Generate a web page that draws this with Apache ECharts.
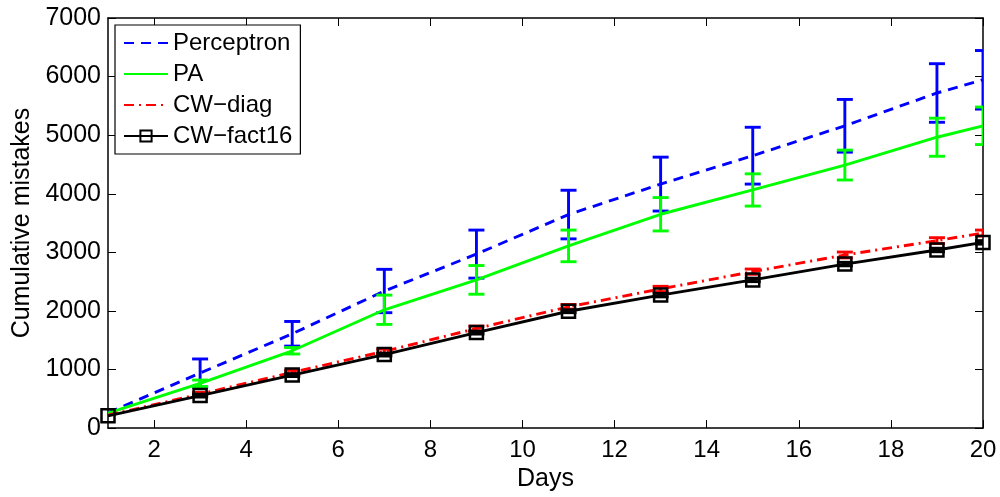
<!DOCTYPE html>
<html><head><meta charset="utf-8">
<script src="https://cdn.jsdelivr.net/npm/echarts@6/dist/echarts.min.js"></script>
<style>html,body{margin:0;padding:0;background:#fff}#c{width:1000px;height:497px}</style>
</head><body><div id="c"></div>
<script>
const days = [1, 3, 5, 7, 9, 11, 13, 15, 17, 19, 20];
const perceptron    = [260, 940, 1610, 2340, 2970, 3645, 4165, 4650, 5160, 5720, 5945];
const perceptronErr = [0, 240, 210, 370, 410, 415, 460, 485, 450, 500, 500];
const pa            = [255, 765, 1320, 2020, 2530, 3110, 3650, 4065, 4490, 4965, 5160];
const paErr         = [0, 55, 55, 250, 245, 270, 285, 275, 255, 325, 320];
const cwDiag        = [220, 580, 950, 1310, 1700, 2070, 2375, 2670, 2955, 3200, 3330];
const cwDiagErr     = [0, 30, 35, 40, 40, 40, 45, 45, 50, 50, 50];
const cwFact16      = [210, 555, 905, 1255, 1630, 1995, 2270, 2530, 2800, 3040, 3170];
const cwFact16Err   = [0, 25, 25, 25, 25, 25, 30, 30, 30, 30, 30];
const xTicks = [2, 4, 6, 8, 10, 12, 14, 16, 18, 20];
const yMin = 0, yMax = 7000, yStep = 1000;
const xName = 'Days', yName = 'Cumulative mistakes';
const names = ['Perceptron', 'PA', 'CW\u2212diag', 'CW\u2212fact16'];

const FONT = '"Liberation Sans", Arial, Helvetica, sans-serif';
const LW = 2.9;
const chart = echarts.init(document.getElementById('c'), null, {renderer: 'canvas'});

function pts(vals) { return days.map((d, i) => [d, vals[i]]); }
function errData(vals, errs) {
  const out = [];
  days.forEach((d, i) => { if (errs[i] > 0) out.push([d, vals[i] - errs[i], vals[i] + errs[i]]); });
  return out;
}
function errSeries(vals, errs, color, z) {
  return {
    type: 'custom', clip: true, z: z, silent: true,
    data: errData(vals, errs),
    encode: {x: 0, y: [1, 2]},
    renderItem: function (params, api) {
      const x = api.value(0), lo = api.value(1), hi = api.value(2);
      const p1 = api.coord([x, lo]), p2 = api.coord([x, hi]);
      const hw = 8;
      const style = {stroke: color, lineWidth: LW, fill: null};
      return {type: 'group', children: [
        {type: 'line', shape: {x1: p1[0], y1: p1[1], x2: p2[0], y2: p2[1]}, style: style},
        {type: 'line', shape: {x1: p1[0] - hw, y1: p1[1], x2: p1[0] + hw, y2: p1[1]}, style: style},
        {type: 'line', shape: {x1: p2[0] - hw, y1: p2[1], x2: p2[0] + hw, y2: p2[1]}, style: style}
      ]};
    }
  };
}

const axisLine = {show: true, onZero: false, lineStyle: {color: '#000', width: 1.5}};
const tick = {show: true, inside: true, length: 8, lineStyle: {color: '#000', width: 1}};

chart.setOption({
  animation: false,
  backgroundColor: '#fff',
  textStyle: {fontFamily: FONT},
  grid: {left: 108, right: 17, top: 18, bottom: 66, containLabel: false},
  legend: {
    data: names.map((n, i) => i < 3 ? {name: n, itemStyle: {opacity: 0}} : {name: n}),
    orient: 'vertical', left: 115, top: 25,
    backgroundColor: '#fff', borderColor: '#000', borderWidth: 1.2,
    padding: [6, 8, 6, 8], itemWidth: 44, itemHeight: 14, itemGap: 7,
    textStyle: {fontFamily: FONT, fontSize: 24, color: '#000'}
  },
  xAxis: [{
    type: 'value', min: 1, max: 20, name: xName, nameLocation: 'middle', nameGap: 32,
    nameTextStyle: {fontFamily: FONT, fontSize: 25, color: '#000'},
    axisLine: axisLine, axisTick: Object.assign({customValues: xTicks}, tick),
    axisLabel: {customValues: xTicks, fontFamily: FONT, fontSize: 24, color: '#000', margin: 10},
    splitLine: {show: false}
  }, {
    type: 'value', min: 1, max: 20, position: 'top',
    axisLine: axisLine, axisTick: Object.assign({customValues: xTicks}, tick),
    axisLabel: {show: false}, splitLine: {show: false}
  }],
  yAxis: [{
    type: 'value', min: yMin, max: yMax, interval: yStep, name: yName, nameLocation: 'middle', nameGap: 68,
    nameTextStyle: {fontFamily: FONT, fontSize: 25, color: '#000'},
    axisLine: axisLine, axisTick: tick,
    axisLabel: {fontFamily: FONT, fontSize: 25, color: '#000', margin: 7, formatter: v => String(v)},
    splitLine: {show: false}
  }, {
    type: 'value', min: yMin, max: yMax, interval: yStep, position: 'right',
    axisLine: axisLine, axisTick: tick, axisLabel: {show: false}, splitLine: {show: false}
  }],
  series: [
    {name: names[0], type: 'line', data: pts(perceptron), symbol: 'none', z: 3,
      lineStyle: {color: '#0000ff', width: LW, type: [10, 7]}, itemStyle: {color: '#0000ff'}},
    errSeries(perceptron, perceptronErr, '#0000ff', 3),
    {name: names[1], type: 'line', data: pts(pa), symbol: 'none', z: 4,
      lineStyle: {color: '#00ff00', width: LW}, itemStyle: {color: '#00ff00'}},
    errSeries(pa, paErr, '#00ff00', 4),
    {name: names[2], type: 'line', data: pts(cwDiag), symbol: 'none', z: 5,
      lineStyle: {color: '#ff0000', width: LW, type: [10, 5, 2, 5]}, itemStyle: {color: '#ff0000'}},
    errSeries(cwDiag, cwDiagErr, '#ff0000', 5),
    errSeries(cwFact16, cwFact16Err, '#000000', 6),
    {name: names[3], type: 'line', data: pts(cwFact16), symbol: 'rect', symbolSize: 13, z: 7,
      showAllSymbol: true,
      lineStyle: {color: '#000', width: LW},
      itemStyle: {color: 'rgba(255,255,255,0)', borderColor: '#000', borderWidth: 2.5}}
  ]
});
</script>
</body></html>
